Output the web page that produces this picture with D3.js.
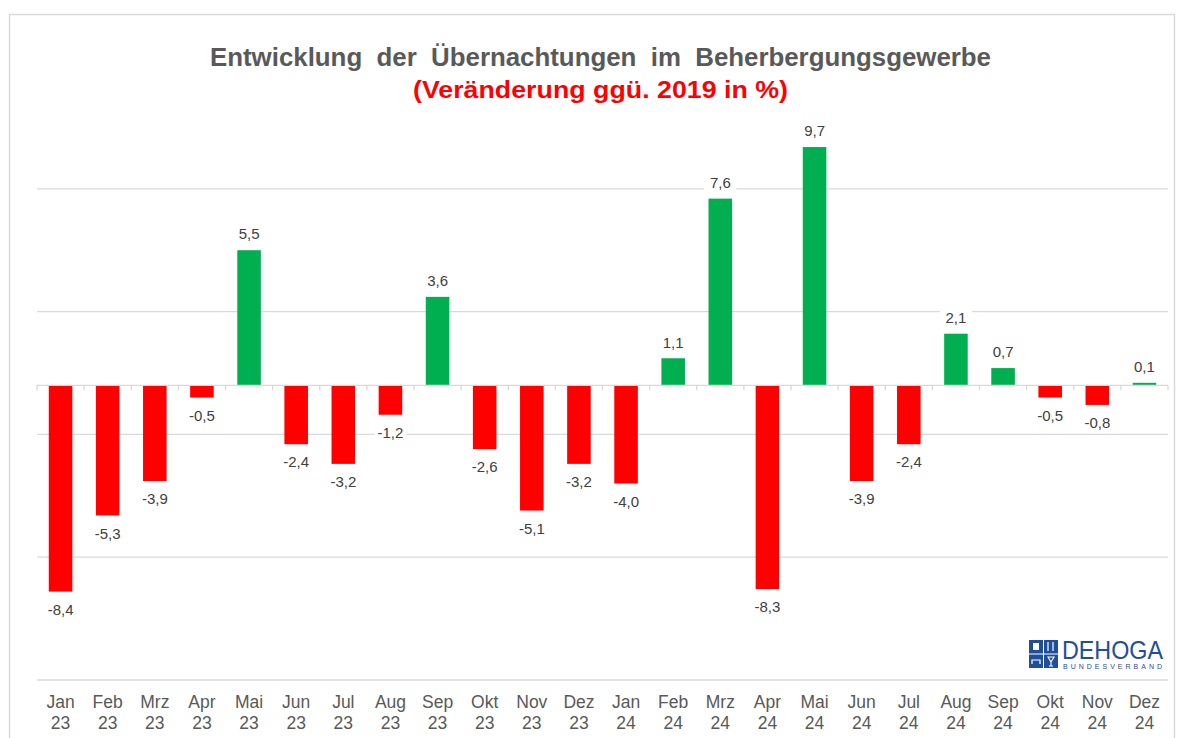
<!DOCTYPE html>
<html>
<head>
<meta charset="utf-8">
<script src="https://cdn.jsdelivr.net/npm/d3@7"></script>
<style>
  body { margin: 0; background: #fff; }
  svg { display: block; font-family: "Liberation Sans", Arial, sans-serif; }
</style>
</head>
<body>
<script>
const months = ["Jan","Feb","Mrz","Apr","Mai","Jun","Jul","Aug","Sep","Okt","Nov","Dez",
                "Jan","Feb","Mrz","Apr","Mai","Jun","Jul","Aug","Sep","Okt","Nov","Dez"];
const years = ["23","23","23","23","23","23","23","23","23","23","23","23",
               "24","24","24","24","24","24","24","24","24","24","24","24"];
const values = [-8.4,-5.3,-3.9,-0.5,5.5,-2.4,-3.2,-1.2,3.6,-2.6,-5.1,-3.2,
                -4.0,1.1,7.6,-8.3,9.7,-3.9,-2.4,2.1,0.7,-0.5,-0.8,0.1];
const gridTicks = [-12,-7,-2,3,8];

const width = 1177, height = 738;
const data = months.map((m, i) => ({ key: i, month: m, year: years[i], value: values[i] }));

const svg = d3.select("body").append("svg")
    .attr("width", width)
    .attr("height", height);

// outer frame
svg.append("rect")
    .attr("x", 9.5).attr("y", 14.5)
    .attr("width", 1165).attr("height", 740)
    .attr("fill", "none")
    .attr("stroke", "#d9d9d9")
    .attr("stroke-width", 1.5);

const x = d3.scaleBand()
    .domain(data.map(d => d.key))
    .range([37, 1168])
    .paddingInner(0.5)
    .paddingOuter(0.25);

const y = d3.scaleLinear()
    .domain([-12, 13])
    .range([680, 66]);

// gridlines
svg.append("g")
    .selectAll("line")
    .data(gridTicks)
    .join("line")
    .attr("x1", 37).attr("x2", 1168)
    .attr("y1", d => y(d)).attr("y2", d => y(d))
    .attr("stroke", "#d9d9d9")
    .attr("stroke-width", 1.3);

// bars
svg.append("g")
    .selectAll("rect")
    .data(data)
    .join("rect")
    .attr("x", d => x(d.key))
    .attr("width", x.bandwidth())
    .attr("y", d => y(Math.max(0, d.value)))
    .attr("height", d => Math.abs(y(d.value) - y(0)))
    .attr("fill", d => d.value >= 0 ? "#00b050" : "#ff0000");

// zero axis with tick marks between categories
const step = x.step();
const zero = svg.append("g");
zero.append("line")
    .attr("x1", 37).attr("x2", 1168)
    .attr("y1", y(0)).attr("y2", y(0))
    .attr("stroke", "#d9d9d9")
    .attr("stroke-width", 1.3);
zero.selectAll("line.tick")
    .data(d3.range(data.length + 1))
    .join("line")
    .attr("class", "tick")
    .attr("x1", i => 37 + i * step).attr("x2", i => 37 + i * step)
    .attr("y1", y(0)).attr("y2", y(0) + 5)
    .attr("stroke", "#d9d9d9")
    .attr("stroke-width", 1.3);

// data labels
const fmt = v => d3.format(".1f")(v).replace(".", ",").replace("−", "-");
const lab = svg.append("g")
    .selectAll("g")
    .data(data)
    .join("g")
    .attr("transform", d => {
        const cx = x(d.key) + x.bandwidth() / 2;
        const cy = d.value >= 0 ? y(d.value) - 16 : y(d.value) + 18;
        return `translate(${cx},${cy})`;
    });
lab.append("rect")
    .attr("x", -16).attr("y", -9)
    .attr("width", 32).attr("height", 18)
    .attr("fill", "#fff");
lab.append("text")
    .attr("text-anchor", "middle")
    .attr("dy", "0.35em")
    .attr("font-size", 15)
    .attr("fill", "#404040")
    .text(d => fmt(d.value));

// category labels
const xAxis = svg.append("g")
    .attr("transform", "translate(0,680)")
    .call(d3.axisBottom(x).tickSize(0).tickFormat(""));
xAxis.select(".domain").remove();
xAxis.selectAll(".tick text").remove();
xAxis.selectAll(".tick").append("text")
    .attr("text-anchor", "middle")
    .attr("font-size", 17.5)
    .attr("fill", "#595959")
    .selectAll("tspan")
    .data(k => [months[k], years[k]])
    .join("tspan")
    .attr("x", 0)
    .attr("y", (d, i) => 28 + i * 21)
    .text(d => d);

// title
svg.append("text")
    .attr("x", 600.5).attr("y", 66)
    .attr("text-anchor", "middle")
    .attr("font-size", 25.5)
    .attr("font-weight", "bold")
    .attr("fill", "#595959")
    .attr("textLength", 781)
    .attr("lengthAdjust", "spacingAndGlyphs")
    .style("white-space", "pre")
    .text("Entwicklung  der  Übernachtungen  im  Beherbergungsgewerbe");
svg.append("text")
    .attr("x", 600.5).attr("y", 98)
    .attr("text-anchor", "middle")
    .attr("font-size", 24.5)
    .attr("font-weight", "bold")
    .attr("fill", "#ff0000")
    .attr("textLength", 375)
    .attr("lengthAdjust", "spacingAndGlyphs")
    .text("(Veränderung ggü. 2019 in %)");

// logo
const logo = svg.append("g").attr("transform", "translate(1029,640)");
const blue = "#1f4e9a";
[[0,0],[15,0],[0,14.5],[15,14.5]].forEach(p => {
    logo.append("rect")
        .attr("x", p[0]).attr("y", p[1])
        .attr("width", 14).attr("height", 13.5)
        .attr("fill", blue);
});
// small white pictograms inside the cells
logo.append("rect").attr("x", 4).attr("y", 3).attr("width", 6).attr("height", 7).attr("fill", "#fff");
logo.append("line").attr("x1", 19).attr("x2", 19).attr("y1", 2).attr("y2", 11).attr("stroke", "#fff").attr("stroke-width", 1.2);
logo.append("line").attr("x1", 24).attr("x2", 24).attr("y1", 2).attr("y2", 11).attr("stroke", "#fff").attr("stroke-width", 1.2);
logo.append("path").attr("d", "M3,24 L3,20 L11,20 L11,24").attr("fill", "none").attr("stroke", "#fff").attr("stroke-width", 1.2);
logo.append("path").attr("d", "M19,17 L25,17 L22,22 Z M22,22 L22,26 M20,26 L24,26").attr("fill", "none").attr("stroke", "#fff").attr("stroke-width", 1.1);
logo.append("text")
    .attr("x", 33).attr("y", 19)
    .attr("font-size", 26)
    .attr("fill", blue)
    .attr("textLength", 101)
    .attr("lengthAdjust", "spacingAndGlyphs")
    .text("DEHOGA");
logo.append("text")
    .attr("x", 34).attr("y", 29)
    .attr("font-size", 7)
    .attr("fill", blue)
    .attr("textLength", 99)
    .attr("lengthAdjust", "spacing")
    .text("BUNDESVERBAND");
</script>
</body>
</html>
